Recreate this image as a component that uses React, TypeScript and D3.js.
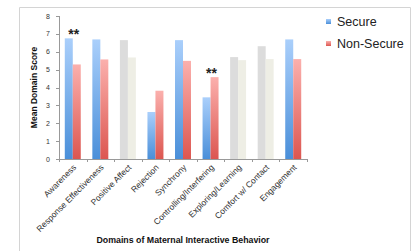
import React from "react";
import * as d3 from "d3";

const categories = [
  "Awareness",
  "Response Effectiveness",
  "Positive Affect",
  "Rejection",
  "Synchrony",
  "Controlling/Interfering",
  "Exploring/Learning",
  "Comfort w/ Contact",
  "Engagement",
];
const secureValues = [6.75, 6.69, 6.65, 2.63, 6.65, 3.45, 5.7, 6.31, 6.69];
const nonSecureValues = [5.29, 5.57, 5.68, 3.82, 5.49, 4.58, 5.53, 5.59, 5.59];
// domains that were not significant are drawn in muted colours
const highlighted = [true, true, false, true, true, true, false, false, true];
const starred = ["Awareness", "Controlling/Interfering"];
const yTicks = [0, 1, 2, 3, 4, 5, 6, 7, 8];

const margin = { left: 59, top: 16, plotRight: 307, plotBottom: 159 };
const font = "Liberation Sans, Arial, Helvetica, sans-serif";

export default function App() {
  const x = d3
    .scaleBand<string>()
    .domain(categories)
    .range([margin.left, margin.plotRight])
    .paddingInner(0.42)
    .paddingOuter(0.21);
  const y = d3.scaleLinear().domain([0, 8]).range([margin.plotBottom, margin.top]);
  const bw = x.bandwidth() / 2;
  const step = x.step();

  return (
    <svg
      width={416}
      height={251}
      style={{ position: "absolute", left: 0, top: 0, background: "#fff" }}
      fontFamily={font}
    >
      <defs>
        <linearGradient id="gBlue" x1="0" y1="0" x2="0" y2="1">
          <stop offset="0%" stopColor="#aacffb" />
          <stop offset="100%" stopColor="#4a8fd9" />
        </linearGradient>
        <linearGradient id="gRed" x1="0" y1="0" x2="0" y2="1">
          <stop offset="0%" stopColor="#fbb0ad" />
          <stop offset="100%" stopColor="#dc5650" />
        </linearGradient>
      </defs>

      {/* frame */}
      <path d="M19.5,251 V7.5 H410.5 V251" fill="none" stroke="#d4d4d4" />

      {/* bars */}
      {categories.map((c, i) => {
        const x0 = x(c) as number;
        return (
          <g key={c}>
            <rect
              x={x0}
              y={y(secureValues[i])}
              width={bw}
              height={y(0) - y(secureValues[i])}
              fill={highlighted[i] ? "url(#gBlue)" : "#dcdcdc"}
            />
            <rect
              x={x0 + bw}
              y={y(nonSecureValues[i])}
              width={bw}
              height={y(0) - y(nonSecureValues[i])}
              fill={highlighted[i] ? "url(#gRed)" : "#eeeee5"}
            />
          </g>
        );
      })}

      {/* significance markers */}
      {starred.map((c) => {
        const i = categories.indexOf(c);
        const top = Math.max(secureValues[i], nonSecureValues[i]);
        return (
          <text
            key={c}
            x={(x(c) as number) + x.bandwidth() / 2 + 1}
            y={y(top) + 1}
            textAnchor="middle"
            fontSize={14}
            fontWeight="bold"
            fill="#222"
          >
            **
          </text>
        );
      })}

      {/* y axis */}
      <line x1={margin.left + 0.5} x2={margin.left + 0.5} y1={y(8)} y2={y(0)} stroke="#999" />
      {yTicks.map((t) => (
        <g key={t}>
          <line
            x1={margin.left - 3}
            x2={margin.left}
            y1={Math.round(y(t)) + 0.5}
            y2={Math.round(y(t)) + 0.5}
            stroke="#999"
          />
          <text x={margin.left - 9} y={y(t) + 2.5} fontSize={7} textAnchor="end" fill="#333">
            {t}
          </text>
        </g>
      ))}

      {/* x axis */}
      <line x1={margin.left} x2={margin.plotRight} y1={y(0) + 0.5} y2={y(0) + 0.5} stroke="#999" />
      {d3.range(categories.length + 1).map((k) => {
        const tx = Math.round(margin.left + k * step) + 0.5;
        return <line key={k} x1={tx} x2={tx} y1={y(0)} y2={y(0) + 3} stroke="#999" />;
      })}
      {categories.map((c) => {
        const cx = (x(c) as number) + x.bandwidth() / 2 + 4;
        const cy = y(0) + 9;
        return (
          <text
            key={c}
            transform={`translate(${cx},${cy}) rotate(-45)`}
            fontSize={8.5}
            textAnchor="end"
            fill="#333"
          >
            {c}
          </text>
        );
      })}

      {/* axis titles */}
      <text
        transform={`translate(37,${(y(0) + y(8)) / 2}) rotate(-90)`}
        textAnchor="middle"
        fontSize={8.5}
        fontWeight="bold"
        fill="#111"
      >
        Mean Domain Score
      </text>
      <text x={183} y={243} textAnchor="middle" fontSize={8.8} fontWeight="bold" fill="#111">
        Domains of Maternal Interactive Behavior
      </text>

      {/* legend */}
      <rect x={326} y={19} width={5} height={5} fill="url(#gBlue)" />
      <text x={337} y={26} fontSize={12.5} fill="#222">
        Secure
      </text>
      <rect x={326} y={41} width={5} height={5} fill="url(#gRed)" />
      <text x={337} y={48} fontSize={12.5} fill="#222">
        Non-Secure
      </text>
    </svg>
  );
}
